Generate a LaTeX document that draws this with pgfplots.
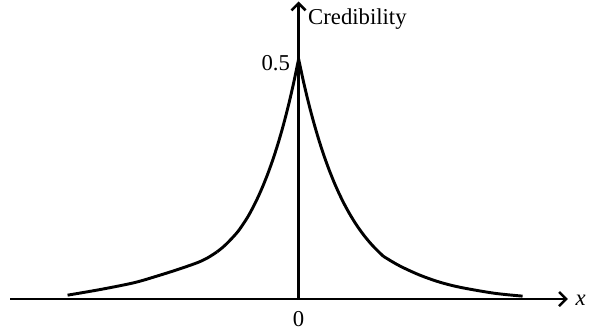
\documentclass[border=0pt]{standalone}
\usepackage{fontspec}
\setmainfont{Liberation Serif}
\usepackage{pgfplots}
\pgfplotsset{compat=1.18}
\usetikzlibrary{arrows.meta}
\begin{document}
\begin{tikzpicture}
\begin{axis}[
  scale only axis,
  width=553pt, height=295pt,
  xmin=-286, xmax=267,
  ymin=0, ymax=0.62,
  axis lines=middle,
  axis line style={line width=2.8pt, -{Straight Barb[length=7pt,width=14pt,line width=2.6pt]}},
  xtick={0}, ytick={0.5},
  xticklabels={0}, yticklabels={0.5},
  hide obscured x ticks=false,
  hide obscured y ticks=false,
  major tick length=0pt,
  tick style={draw=none},
  /pgf/number format/assume math mode=true,
  ticklabel style={font=\fontsize{22.5}{26}\selectfont},
  xticklabel style={yshift=-9pt},
  yticklabel style={xshift=-5pt, yshift=-4pt},
  xlabel={\textit{x}}, ylabel={Credibility},
  every axis x label/.style={at={(axis cs:267,0)}, anchor=west, xshift=4pt, yshift=-1pt, font=\fontsize{22.5}{26}\selectfont},
  every axis y label/.style={at={(axis cs:0,0.62)}, anchor=north west, xshift=6pt, yshift=-4pt, font=\fontsize{22.5}{26}\selectfont},
  clip=false,
]
% left tail
\addplot[line width=2.9pt, smooth, tension=0.5] coordinates {
(-229,0.008) (-196,0.020) (-163,0.034) (-140,0.048) (-119,0.062) (-100,0.076) (-90,0.086) (-81,0.098)
};
% left steep part
\addplot[line width=2.9pt, smooth, tension=0.5] coordinates {
(-81,0.098) (-75,0.108) (-70,0.118) (-65,0.129) (-60,0.141) (-55,0.156) (-50,0.1724) (-45,0.1918) (-40,0.2133) (-35,0.2373) (-30,0.2640) (-25,0.2936) (-20,0.3266) (-15,0.3633) (-10,0.4041) (-5,0.4495) (0,0.5)
};
% right steep part
\addplot[line width=2.9pt, smooth, tension=0.5] coordinates {
(0,0.5) (5,0.4513) (10,0.4073) (15,0.3677) (20,0.3319) (25,0.2995) (30,0.2704) (35,0.2440) (40,0.2203) (45,0.1988) (50,0.1795) (55,0.1620) (60,0.1462) (65,0.1320) (70,0.1191) (75,0.1075) (80,0.0970) (84,0.0890)
};
% right tail
\addplot[line width=2.9pt, smooth, tension=0.5] coordinates {
(84,0.089) (95,0.075) (105,0.064) (121,0.049) (140,0.035) (161,0.024) (194,0.012) (222,0.006)
};
\end{axis}
\path ([xshift=-10pt]current axis.west);
\end{tikzpicture}
\end{document}
